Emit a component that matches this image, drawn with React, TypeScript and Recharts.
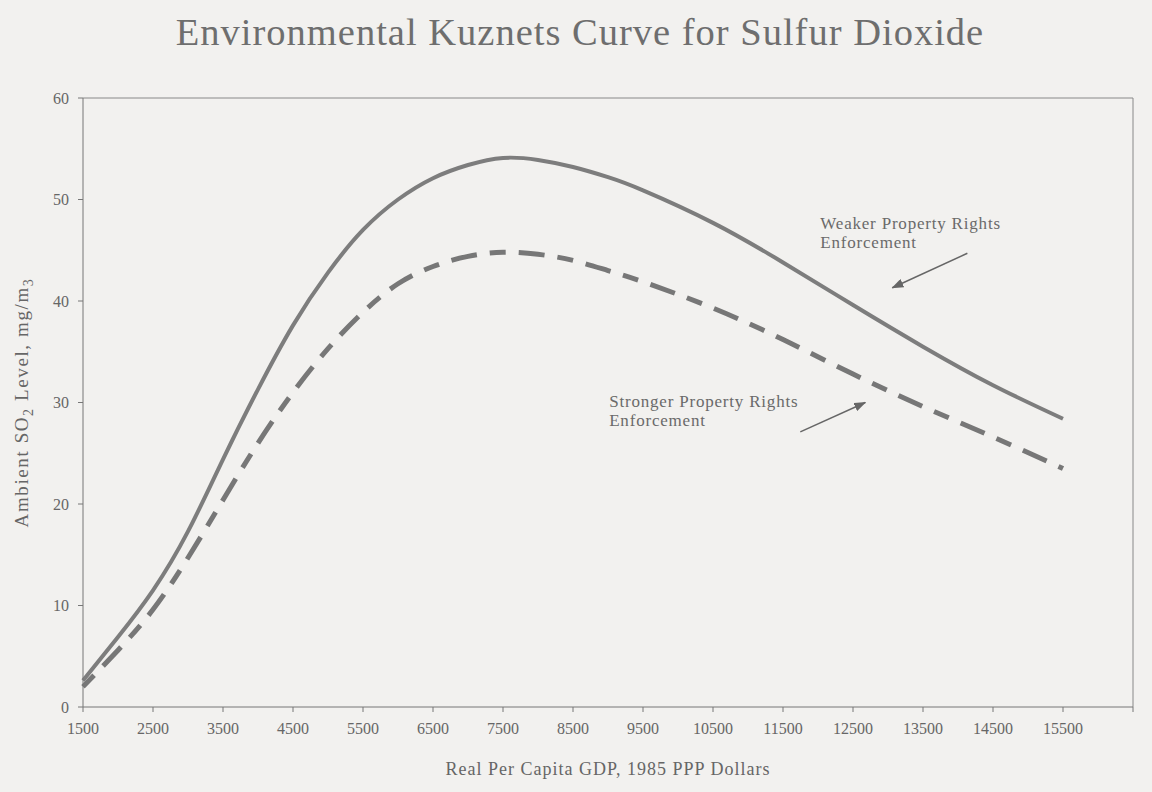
import React from "react"
import { LineChart, Line, XAxis, YAxis, ReferenceLine, ReferenceDot, Label } from "recharts"

const gdp = [1500, 2000, 2500, 3000, 3500, 4000, 4500, 5000, 5500, 6000, 6500, 7000, 7500, 8000, 8500, 9000, 9500, 10500, 11500, 12500, 13500, 14500, 15500]
const weakerRights = [2.6, 6.9, 11.5, 17.3, 24.4, 31.3, 37.6, 42.8, 47.0, 50.0, 52.1, 53.4, 54.1, 53.9, 53.2, 52.2, 50.9, 47.7, 43.8, 39.6, 35.5, 31.7, 28.4]
const strongerRights = [2.0, 5.6, 9.6, 14.7, 20.4, 26.0, 31.0, 35.3, 38.9, 41.7, 43.4, 44.4, 44.8, 44.6, 44.0, 43.0, 41.9, 39.3, 36.2, 32.8, 29.6, 26.6, 23.5]

const xTicks = [1500, 2500, 3500, 4500, 5500, 6500, 7500, 8500, 9500, 10500, 11500, 12500, 13500, 14500, 15500, 16500]
const yTicks = [0, 10, 20, 30, 40, 50, 60]

const data = gdp.map((g, i) => ({ gdp: g, weaker: weakerRights[i], stronger: strongerRights[i] }))

const serif = "'Liberation Serif', 'DejaVu Serif', serif"
const ink = "#666"

const Note = ({ lines }: { lines: string[] }) => (props: any) => (
  <text x={props.cx} y={props.cy} fill="#6a6a6a" fontFamily={serif} fontSize={17} letterSpacing={0.8}>
    {lines.map((l, i) => (
      <tspan key={i} x={props.cx} dy={i === 0 ? 0 : 19}>
        {l}
      </tspan>
    ))}
  </text>
)

const YTitle = (props: any) => {
  const vb = props.viewBox
  const cy = vb.y + vb.height / 2
  return (
    <text
      x={28}
      y={cy}
      transform={`rotate(-90 28 ${cy})`}
      textAnchor="middle"
      fill={ink}
      fontFamily={serif}
      fontSize={19}
      letterSpacing={1.6}
    >
      Ambient SO<tspan fontSize={14} dy={5}>2</tspan>
      <tspan dy={-5}> Level, mg/m</tspan>
      <tspan fontSize={14} dy={5}>3</tspan>
    </text>
  )
}

export default function App() {
  return (
    <div style={{ position: "absolute", left: 0, top: 0, width: 1152, height: 792, background: "#f2f1ef" }}>
      <div
        style={{
          position: "absolute",
          top: 10,
          width: 1160,
          textAlign: "center",
          fontFamily: serif,
          fontSize: 38.5,
          color: "#6e6e6e",
          letterSpacing: 1,
        }}
      >
        Environmental Kuznets Curve for Sulfur Dioxide
      </div>
      <LineChart width={1152} height={792} data={data} margin={{ top: 98, right: 19, bottom: 55, left: 43 }}>
        <defs>
          <marker id="arrow" markerWidth="12" markerHeight="9" refX="11" refY="4.5" orient="auto" markerUnits="userSpaceOnUse">
            <path d="M0,0 L12,4.5 L0,9 z" fill="#666" />
          </marker>
        </defs>
        <XAxis
          dataKey="gdp"
          type="number"
          domain={[1500, 16500]}
          ticks={xTicks}
          tickFormatter={(v: number) => (v === 16500 ? "" : String(v))}
          interval={0}
          stroke="#777"
          tickSize={5}
          tickMargin={11}
          height={30}
          tick={{ fill: ink, fontFamily: serif, fontSize: 16 }}
        >
          <Label
            value="Real Per Capita GDP, 1985 PPP Dollars"
            position="insideBottom"
            offset={-38}
            fill={ink}
            fontFamily={serif}
            fontSize={18}
            letterSpacing={1}
          />
        </XAxis>
        <YAxis
          type="number"
          domain={[0, 60]}
          ticks={yTicks}
          interval={0}
          stroke="#777"
          tickSize={5}
          tickMargin={9}
          width={40}
          tick={{ fill: ink, fontFamily: serif, fontSize: 16 }}
        >
          <Label content={YTitle} />
        </YAxis>
        <ReferenceLine y={60} stroke="#888" strokeWidth={1} />
        <ReferenceLine x={16500} stroke="#888" strokeWidth={1} />
        <Line type="natural" dataKey="weaker" stroke="#7d7d7d" strokeWidth={4} dot={false} isAnimationActive={false} />
        <Line
          type="natural"
          dataKey="stronger"
          stroke="#777"
          strokeWidth={5}
          strokeDasharray="16 13 26 13"
          dot={false}
          isAnimationActive={false}
        />
        <ReferenceLine
          segment={[{ x: 14134, y: 44.7 }, { x: 13062, y: 41.3 }]}
          stroke="#666"
          strokeWidth={1.5}
          markerEnd="url(#arrow)"
        />
        <ReferenceLine
          segment={[{ x: 11747, y: 27.1 }, { x: 12676, y: 30.0 }]}
          stroke="#666"
          strokeWidth={1.5}
          markerEnd="url(#arrow)"
        />
        <ReferenceDot x={12033} y={47.1} r={0} shape={Note({ lines: ["Weaker Property Rights", "Enforcement"] })} />
        <ReferenceDot x={9017} y={29.6} r={0} shape={Note({ lines: ["Stronger Property Rights", "Enforcement"] })} />
      </LineChart>
    </div>
  )
}
